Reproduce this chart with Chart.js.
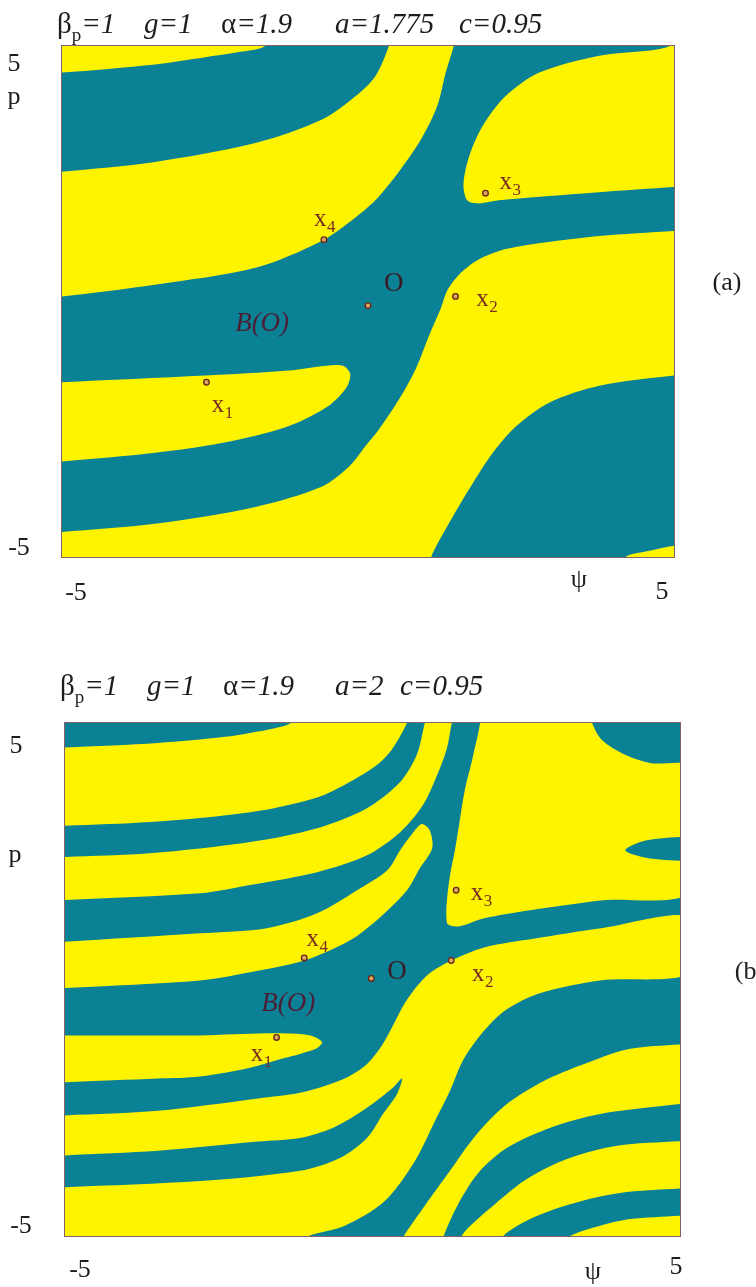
<!DOCTYPE html>
<html>
<head>
<meta charset="utf-8">
<script src="https://cdn.jsdelivr.net/npm/chart.js@4.4.1/dist/chart.umd.min.js"></script>
<style>
  body { margin: 0; background: #fff; width: 756px; height: 1287px; overflow: hidden; position: relative; }
  canvas { position: absolute; left: 0; }
  #chartA { top: 0; }
  #chartB { top: 640px; }
</style>
</head>
<body>
<canvas id="chartA" width="756" height="640" style="width:756px;height:640px"></canvas>
<canvas id="chartB" width="756" height="647" style="width:756px;height:647px"></canvas>
<script>
// ---------------- DATA -----------------------------
// axes: psi (x) and p (y), both from -5 to 5
const axisRange = [-5, 5];
const xTickLabels = ["-5", "ψ", "5"];
const yTickLabels = ["5", "p", "-5"];

// PANEL (a)  a = 1.775 -- yellow basin regions, [psi, p] boundary points
const aTopLeft = [[-5.3, 5.3], [-5.3, 4.47], [-5, 4.48], [-3.48, 4.64], [-2.66, 4.78], [-2.06, 4.89], [-1.68, 5.0], [-1.6, 5.3]];
const aX4Band = [[-5.3, 2.53], [-5, 2.54], [-3.48, 2.73], [-1.84, 3.10], [-0.75, 3.56], [-0.2, 4.02], [0.12, 4.41], [0.34, 5.0], [0.38, 5.3],
  [1.45, 5.3], [1.40, 5.0], [1.27, 4.48], [1.13, 3.82], [0.86, 3.16], [0.48, 2.50], [0.12, 1.98], [-0.2, 1.65], [-0.75, 1.19],
  [-1.84, 0.66], [-3.48, 0.33], [-5, 0.10], [-5.3, 0.08]];
const aX1Tongue = [[-5.3, -1.59], [-5, -1.58], [-2.66, -1.45], [-1.30, -1.35], [-0.64, -1.25], [-0.40, -1.26], [-0.29, -1.42],
  [-0.35, -1.68], [-0.64, -2.04], [-1.30, -2.44], [-2.39, -2.77], [-3.48, -2.96], [-5, -3.13], [-5.3, -3.14]];
const aX2Band = [[5.3, 1.39], [5.0, 1.38], [3.78, 1.28], [2.69, 1.12], [2.14, 0.99], [1.76, 0.79], [1.49, 0.53], [1.30, 0.23],
  [1.19, -0.13], [1.0, -0.66], [0.78, -1.32], [0.51, -1.91], [0.18, -2.50], [-0.04, -2.83], [-0.3, -3.22], [-0.75, -3.62],
  [-1.84, -4.02], [-3.48, -4.35], [-5, -4.51], [-5.3, -4.52], [-5.3, -5.3], [0.95, -5.3], [1.05, -4.94], [1.38, -4.22],
  [1.71, -3.56], [2.04, -2.96], [2.42, -2.44], [2.96, -1.98], [3.78, -1.65], [5.0, -1.45], [5.3, -1.44]];
const aX3Region = [[5.3, 2.25], [5.0, 2.24], [3.78, 2.14], [2.69, 2.04], [2.14, 1.98], [1.80, 1.92], [1.62, 1.98], [1.56, 2.30],
  [1.65, 2.83], [1.87, 3.43], [2.25, 4.02], [2.80, 4.48], [3.78, 4.81], [4.87, 4.97], [5.3, 5.3]];
const aCorner = [[4.05, -5.3], [4.21, -5.0], [4.6, -4.88], [5.0, -4.78], [5.3, -4.76], [5.3, -5.3]];

// fixed points x1..x4 and O
const pointNames = ["x", "x", "x", "x", "O"];
const pointSubs = ["1", "2", "3", "4", ""];
const aPoints = [[-2.64, -1.58], [1.43, 0.10], [1.92, 2.12], [-0.72, 1.21], [0.0, -0.08]];
const aLabelPos = [[-2.45, -2.04], [1.87, 0.04], [2.25, 2.33], [-0.78, 1.60], [0.42, 0.34]];
const aBasinLabel = [-1.73, -0.43];

// PANEL (b)  a = 2
const bTopBand = [[-5.2, 4.51], [-3.49, 4.61], [-2.40, 4.73], [-1.59, 4.90], [-1.33, 5.0], [-1.3, 5.2], [0.6, 5.2], [0.56, 5.0],
  [0.33, 4.51], [0.07, 4.18], [-0.37, 3.85], [-0.90, 3.55], [-1.99, 3.26], [-3.62, 3.07], [-5.2, 2.99]];
const bSecondBand = [[-5.2, 2.38], [-3.62, 2.46], [-1.99, 2.68], [-0.90, 2.95], [-0.09, 3.34], [0.45, 3.85], [0.72, 4.38],
  [0.85, 5.0], [0.89, 5.2], [1.34, 5.2], [1.29, 5.0], [1.21, 4.51], [1.05, 3.98], [0.82, 3.40], [0.45, 2.87], [-0.09, 2.42],
  [-0.90, 2.09], [-1.99, 1.84], [-2.80, 1.68], [-5.2, 1.54]];
const bX4Band = [[-5.2, 0.72], [-2.80, 0.90], [-1.72, 1.0], [-0.90, 1.29], [-0.25, 1.74], [0.24, 2.13], [0.45, 2.52], [0.64, 2.83],
  [0.80, 3.03], [0.93, 2.91], [0.97, 2.56], [0.77, 2.17], [0.56, 1.74], [0.12, 1.21], [-0.37, 0.76], [-1.11, 0.37],
  [-1.99, 0.14], [-2.80, -0.02], [-5.2, -0.18]];
const bX1Tongue = [[-5.2, -1.09], [-2.80, -1.09], [-1.72, -1.05], [-1.10, -1.07], [-0.92, -1.13], [-0.82, -1.23], [-0.92, -1.35],
  [-1.18, -1.45], [-1.46, -1.54], [-1.99, -1.72], [-2.80, -1.89], [-3.49, -1.93], [-5.2, -2.01]];
const bX2Band = [[-5.2, -2.66], [-3.49, -2.56], [-1.86, -2.32], [-1.18, -2.21], [-0.53, -1.97], [-0.12, -1.68], [0.15, -1.29],
  [0.33, -0.90], [0.50, -0.51], [0.69, -0.18], [0.93, 0.12], [1.28, 0.37], [1.83, 0.63], [2.64, 0.80], [3.72, 1.0], [5.2, 1.21],
  [5.2, 0.14], [3.70, -0.02], [2.72, -0.27], [2.15, -0.61], [1.75, -1.09], [1.47, -1.58], [1.26, -2.17], [1.02, -2.75],
  [0.69, -3.54], [0.20, -4.32], [-0.45, -4.80], [-1.08, -5.02], [-1.18, -5.2], [-5.2, -5.2]];
const bLowBand1 = [[5.2, -1.25], [4.19, -1.35], [3.59, -1.58], [2.80, -1.97], [2.15, -2.46], [1.67, -3.05], [1.26, -3.73],
  [0.85, -4.41], [0.50, -5.02], [0.45, -5.2], [1.13, -5.2], [1.15, -5.02], [1.42, -4.32], [1.75, -3.73], [2.19, -3.28],
  [2.89, -2.89], [3.70, -2.62], [5.2, -2.40]];
const bLowBand2 = [[5.2, -3.14], [3.98, -3.24], [3.16, -3.50], [2.51, -3.89], [1.99, -4.38], [1.59, -4.80], [1.44, -5.02],
  [1.39, -5.2], [2.15, -5.2], [2.11, -5.02], [2.56, -4.67], [3.21, -4.38], [4.02, -4.16], [5.2, -4.06]];
const bCorner = [[5.2, -4.59], [4.19, -4.67], [3.70, -4.80], [3.18, -5.02], [3.13, -5.2], [5.2, -5.2]];
const bX3Region = [[1.75, 5.2], [1.75, 5.0], [1.62, 4.28], [1.50, 3.69], [1.42, 3.11], [1.34, 2.52], [1.26, 2.03], [1.21, 1.54],
  [1.20, 1.25], [1.23, 1.07], [1.42, 1.04], [1.80, 1.19], [2.56, 1.35], [3.70, 1.54], [5.2, 1.74], [5.2, 4.12], [4.51, 4.22],
  [4.11, 4.38], [3.73, 4.67], [3.57, 5.0], [3.54, 5.2]];
// teal tongues cut into yellow regions
const bLowTongue = [[-5.2, -3.44], [-3.49, -3.34], [-1.86, -3.16], [-1.18, -3.09], [-0.64, -2.89], [-0.09, -2.50], [0.33, -2.11],
  [0.48, -1.93], [0.40, -2.23], [0.17, -2.62], [-0.09, -3.09], [-0.53, -3.48], [-1.18, -3.73], [-2.80, -3.93], [-5.2, -4.06]];
const bRightTongue = [[5.2, 2.79], [4.67, 2.75], [4.35, 2.68], [4.11, 2.52], [4.35, 2.40], [4.67, 2.34], [5.2, 2.30]];

const bPoints = [[-1.56, -1.13], [1.28, 0.37], [1.36, 1.74], [-1.11, 0.42], [-0.02, 0.02]];
const bLabelPos = [[-1.88, -1.46], [1.72, 0.10], [1.70, 1.68], [-0.97, 0.78], [0.40, 0.14]];
const bBasinLabel = [-1.37, -0.47];

// ---------------- STYLE -----------------------------
const TEAL = "#0b8196";
const YELLOW = "#fff400";
const SERIF = '"Liberation Serif", "DejaVu Serif", serif';

function region(points, color, order) {
  return {
    data: points.map(([x, y]) => ({ x, y })),
    showLine: true,
    fill: "shape",
    backgroundColor: color,
    borderColor: color,
    borderWidth: 0,
    pointRadius: 0,
    tension: 0.3,
    order: order,
  };
}

function markers(points) {
  return {
    data: points.map(([x, y]) => ({ x, y })),
    showLine: false,
    pointRadius: 2.8,
    pointBorderWidth: 1.3,
    pointBackgroundColor: "#d8a860",
    pointBorderColor: "#6a2418",
    order: 0,
  };
}

function drawTitle(ctx, groups, baseline) {
  ctx.save();
  ctx.fillStyle = "#1d1d1d";
  ctx.textAlign = "left";
  ctx.textBaseline = "alphabetic";
  for (const g of groups) {
    let x = g.x;
    for (const [text, style] of g.parts) {
      let dy = 0;
      if (style === "i") ctx.font = "italic 29px " + SERIF;
      else if (style === "s") { ctx.font = "19px " + SERIF; dy = 8; }
      else ctx.font = "29px " + SERIF;
      ctx.fillText(text, x, baseline + dy);
      x += ctx.measureText(text).width;
    }
  }
  ctx.restore();
}

// draws background, frame and all the text of one panel
function panelDecor(panel) {
  return {
    id: "panelDecor",
    beforeDatasetsDraw(chart) {
      const { ctx, chartArea: a } = chart;
      ctx.save();
      ctx.fillStyle = TEAL;
      ctx.fillRect(a.left, a.top, a.right - a.left, a.bottom - a.top);
      ctx.restore();
    },
    afterDraw(chart) {
      const { ctx, chartArea: a, scales } = chart;
      const px = (v) => scales.x.getPixelForValue(v);
      const py = (v) => scales.y.getPixelForValue(v);

      ctx.save();
      ctx.strokeStyle = "rgba(110,70,80,0.85)";
      ctx.lineWidth = 1;
      ctx.strokeRect(a.left - 0.5, a.top - 0.5, a.right - a.left + 1, a.bottom - a.top + 1);

      // point labels
      ctx.textAlign = "center";
      ctx.textBaseline = "middle";
      panel.labelPos.forEach(([lx, ly], i) => {
        const x = px(lx), y = py(ly);
        if (pointNames[i] === "O") {
          ctx.fillStyle = "#3c1c24";
          ctx.font = "27px " + SERIF;
          ctx.fillText("O", x, y);
        } else {
          ctx.fillStyle = "#7a2e20";
          ctx.font = "25px " + SERIF;
          ctx.fillText(pointNames[i], x, y);
          ctx.font = "17px " + SERIF;
          ctx.fillText(pointSubs[i], x + 11, y + 8);
        }
      });
      ctx.fillStyle = "#4a1f35";
      ctx.font = "italic 27px " + SERIF;
      ctx.fillText("B(O)", px(panel.basinLabel[0]), py(panel.basinLabel[1]));

      // axis labels
      ctx.fillStyle = "#1d1d1d";
      ctx.font = "26px " + SERIF;
      panel.yTickPos.forEach(([x, y], i) => ctx.fillText(yTickLabels[i], x, y));
      panel.xTickPos.forEach(([x, y], i) => ctx.fillText(xTickLabels[i], x, y));
      ctx.fillText(panel.tag, panel.tagPos[0], panel.tagPos[1]);
      ctx.restore();

      drawTitle(ctx, panel.title, panel.titleBaseline);
    },
  };
}

function makeChart(id, panel) {
  const datasets = [markers(panel.points)]
    .concat(panel.teal.map((r) => region(r, TEAL, 1)))
    .concat(panel.yellow.map((r) => region(r, YELLOW, 2)));
  return new Chart(document.getElementById(id), {
    type: "line",
    data: { datasets },
    options: {
      responsive: false,
      animation: false,
      events: [],
      layout: { padding: panel.padding },
      elements: { line: { capBezierPoints: false } },
      scales: {
        x: { type: "linear", min: axisRange[0], max: axisRange[1], display: false },
        y: { type: "linear", min: axisRange[0], max: axisRange[1], display: false },
      },
      plugins: { legend: { display: false }, tooltip: { enabled: false } },
    },
    plugins: [panelDecor(panel)],
  });
}

// ---------------- RENDER THE CHARTS -----------------------------
const chartA = makeChart("chartA", {
  yellow: [aTopLeft, aX4Band, aX1Tongue, aX2Band, aX3Region, aCorner],
  teal: [],
  points: aPoints,
  labelPos: aLabelPos,
  basinLabel: aBasinLabel,
  padding: { left: 62, top: 46, right: 82, bottom: 83 },
  yTickPos: [[14, 64], [14, 97], [19, 548]],
  xTickPos: [[76, 593], [579, 580], [662, 592]],
  tag: "(a)",
  tagPos: [727, 283],
  titleBaseline: 33,
  title: [
    { x: 57, parts: [["β", "n"], ["p", "s"], ["=1", "i"]] },
    { x: 144, parts: [["g=1", "i"]] },
    { x: 221, parts: [["α", "n"], ["=1.9", "i"]] },
    { x: 335, parts: [["a=1.775", "i"]] },
    { x: 459, parts: [["c=0.95", "i"]] },
  ],
});

const chartB = makeChart("chartB", {
  yellow: [bTopBand, bSecondBand, bX4Band, bX1Tongue, bX2Band, bLowBand1, bLowBand2, bCorner, bX3Region],
  teal: [bLowTongue, bRightTongue],
  points: bPoints,
  labelPos: bLabelPos,
  basinLabel: bBasinLabel,
  padding: { left: 65, top: 83, right: 76, bottom: 51 },
  yTickPos: [[16, 106], [15, 215], [21, 586]],
  xTickPos: [[80, 630], [593, 632], [676, 627]],
  tag: "(b)",
  tagPos: [750, 332],
  titleBaseline: 55,
  title: [
    { x: 60, parts: [["β", "n"], ["p", "s"], ["=1", "i"]] },
    { x: 147, parts: [["g=1", "i"]] },
    { x: 223, parts: [["α", "n"], ["=1.9", "i"]] },
    { x: 335, parts: [["a=2", "i"]] },
    { x: 400, parts: [["c=0.95", "i"]] },
  ],
});
</script>
</body>
</html>
